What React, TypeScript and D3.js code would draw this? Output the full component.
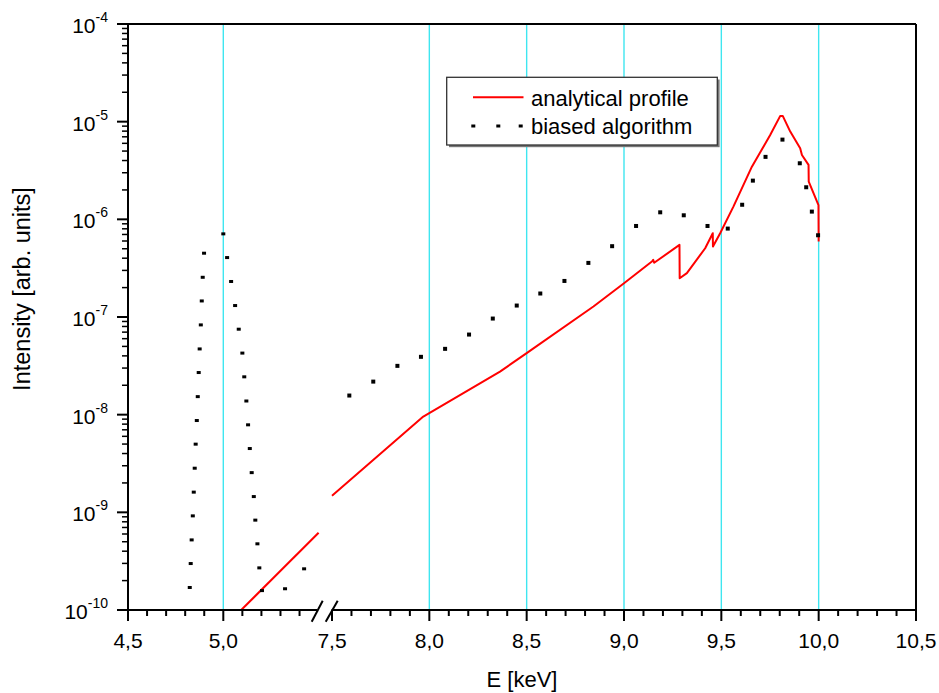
import React from "react";
import * as d3 from "d3";

// ---- data ----
const redLeftE = [5.094, 5.5];
const redLeftI = [1.0e-10, 6.17e-10];

const redRightE = [7.5, 7.969, 8.363, 8.5, 8.843, 9.0, 9.145, 9.15, 9.155, 9.285, 9.286, 9.323, 9.417, 9.456, 9.457, 9.494, 9.562, 9.657, 9.751, 9.802, 9.816, 9.854, 9.905, 9.914, 9.948, 9.949, 9.999, 10.0];
const redRightI = [1.48e-9, 9.57e-9, 2.76e-8, 4.27e-8, 1.28e-7, 2.22e-7, 3.72e-7, 3.85e-7, 3.59e-7, 5.47e-7, 2.49e-7, 2.81e-7, 5.06e-7, 7.21e-7, 5.26e-7, 7.21e-7, 1.35e-6, 3.46e-6, 7.31e-6, 1.14e-5, 1.14e-5, 7.91e-6, 5.35e-6, 4.56e-6, 3.61e-6, 2.43e-6, 1.40e-6, 5.92e-7];

const dotsLeftE = [
  4.899, 4.892, 4.887, 4.882, 4.876, 4.871, 4.866, 4.861, 4.855, 4.85, 4.845, 4.84, 4.834, 4.829, 4.824,
  5.0, 5.02, 5.041, 5.062, 5.081, 5.1, 5.11, 5.121, 5.13, 5.139, 5.149, 5.16, 5.168, 5.179, 5.189, 5.203,
  5.324, 5.424,
];
const dotsLeftI = [
  4.5e-7, 2.55e-7, 1.46e-7, 8.3e-8, 4.71e-8, 2.7e-8, 1.53e-8, 8.71e-9, 4.99e-9, 2.83e-9, 1.61e-9, 9.2e-10, 5.22e-10, 2.99e-10, 1.7e-10,
  7.1e-7, 4.06e-7, 2.31e-7, 1.31e-7, 7.5e-8, 4.27e-8, 2.44e-8, 1.38e-8, 7.87e-9, 4.5e-9, 2.55e-9, 1.45e-9, 8.32e-10, 4.76e-10, 2.7e-10, 1.58e-10,
  1.65e-10, 2.64e-10,
];

const dotsRightE = [7.589, 7.712, 7.836, 7.957, 8.081, 8.204, 8.326, 8.449, 8.57, 8.694, 8.817, 8.939, 9.062, 9.186, 9.307, 9.429, 9.533, 9.607, 9.662, 9.727, 9.814, 9.903, 9.936, 9.965, 9.997];
const dotsRightI = [1.57e-8, 2.18e-8, 3.16e-8, 3.91e-8, 4.72e-8, 6.61e-8, 9.64e-8, 1.31e-7, 1.74e-7, 2.34e-7, 3.58e-7, 5.31e-7, 8.55e-7, 1.18e-6, 1.1e-6, 8.55e-7, 8.04e-7, 1.41e-6, 2.49e-6, 4.36e-6, 6.55e-6, 3.75e-6, 2.13e-6, 1.2e-6, 6.87e-7];

const majorLeft = [4.5, 5.0];
const majorRight = [7.5, 8.0, 8.5, 9.0, 9.5, 10.0, 10.5];
const gridLeft = [5.0];
const gridRight = [8.0, 8.5, 9.0, 9.5, 10.0];
const decades = [-10, -9, -8, -7, -6, -5, -4];

const seriesNames = ["analytical profile", "biased algorithm"];
const xTitle = "E [keV]";
const yTitle = "Intensity [arb. units]";

// ---- layout ----
const W = 939;
const H = 693;
const L = 128;
const R = 916;
const T = 24;
const B = 610;
const FONT = "'Liberation Sans', Arial, Helvetica, sans-serif";
const CYAN = "#3fe6f0";

const xL = d3.scaleLinear().domain([4.5, 5.5]).range([L, 318.6]);
const xR = d3.scaleLinear().domain([7.5, 10.5]).range([332, R]);
const y = d3.scaleLog().domain([1e-10, 1e-4]).range([B, T]);

const fmt = (v: number) => v.toFixed(1).replace(".", ",");

export default function App() {
  const lineL = d3
    .line<number>()
    .x((_, i) => xL(redLeftE[i]))
    .y((d) => y(d));
  const lineR = d3
    .line<number>()
    .x((_, i) => xR(redRightE[i]))
    .y((d) => y(d));

  const minorLeft = d3.range(46, 55).map((v) => v / 10).filter((v) => Math.abs(v - 5) > 1e-6);
  const minorRight = d3.range(76, 105).map((v) => v / 10).filter((v) => Math.abs(v * 2 - Math.round(v * 2)) > 1e-6);

  const minorY: number[] = [];
  decades.slice(0, -1).forEach((e) => {
    for (let m = 2; m <= 9; m++) minorY.push(m * Math.pow(10, e));
  });

  return (
    <svg
      width={W}
      height={H}
      style={{ position: "absolute", left: 0, top: 0, display: "block", background: "#fff" }}
      fontFamily={FONT}
    >
      <defs>
        <clipPath id="plot">
          <rect x={L} y={T} width={R - L} height={B - T} />
        </clipPath>
      </defs>
      <rect x={0} y={0} width={W} height={H} fill="#fff" />

      {/* grid lines */}
      {gridLeft.map((v) => (
        <line key={"gl" + v} x1={xL(v)} x2={xL(v)} y1={T} y2={B} stroke={CYAN} strokeWidth={1.4} />
      ))}
      {gridRight.map((v) => (
        <line key={"gr" + v} x1={xR(v)} x2={xR(v)} y1={T} y2={B} stroke={CYAN} strokeWidth={1.4} />
      ))}

      {/* series */}
      <g clipPath="url(#plot)">
        <path d={lineL(redLeftI) || ""} fill="none" stroke="#ff0000" strokeWidth={2} />
        <path d={lineR(redRightI) || ""} fill="none" stroke="#ff0000" strokeWidth={2} strokeLinejoin="round" />
        {dotsLeftI.map((v, i) => (
          <rect key={"dl" + i} x={xL(dotsLeftE[i]) - 2} y={y(v) - 1.5} width={4} height={3} fill="#000" />
        ))}
        {dotsRightI.map((v, i) => (
          <rect key={"dr" + i} x={xR(dotsRightE[i]) - 2} y={y(v) - 2} width={4} height={4} fill="#000" />
        ))}
      </g>

      {/* frame */}
      <line x1={L} x2={R} y1={T} y2={T} stroke="#000" strokeWidth={2} />
      <line x1={R} x2={R} y1={T} y2={B} stroke="#000" strokeWidth={2} />
      <line x1={L} x2={L} y1={T} y2={B + 1} stroke="#000" strokeWidth={2} />
      <line x1={L - 1} x2={317} y1={B} y2={B} stroke="#000" strokeWidth={2} />
      <line x1={331.5} x2={R + 1} y1={B} y2={B} stroke="#000" strokeWidth={2} />
      {/* axis break marks */}
      <line x1={311.7} y1={621.7} x2={322.7} y2={600.7} stroke="#000" strokeWidth={2} />
      <line x1={325.7} y1={621.7} x2={337.7} y2={600.7} stroke="#000" strokeWidth={2} />

      {/* x ticks */}
      {majorLeft.map((v) => (
        <g key={"ml" + v}>
          <line x1={xL(v)} x2={xL(v)} y1={B} y2={B + 11} stroke="#000" strokeWidth={2} />
          <text x={xL(v)} y={648} fontSize={21} textAnchor="middle" fill="#000">{fmt(v)}</text>
        </g>
      ))}
      {majorRight.map((v) => (
        <g key={"mr" + v}>
          <line x1={xR(v)} x2={xR(v)} y1={B} y2={B + 11} stroke="#000" strokeWidth={2} />
          <text x={xR(v)} y={648} fontSize={21} textAnchor="middle" fill="#000">{fmt(v)}</text>
        </g>
      ))}
      {minorLeft.map((v) => (
        <line key={"nl" + v} x1={xL(v)} x2={xL(v)} y1={B} y2={B + 6} stroke="#000" strokeWidth={2} />
      ))}
      {minorRight.map((v) => (
        <line key={"nr" + v} x1={xR(v)} x2={xR(v)} y1={B} y2={B + 6} stroke="#000" strokeWidth={2} />
      ))}

      {/* y ticks */}
      {decades.map((e) => (
        <g key={"yd" + e}>
          <line x1={L - 11} x2={L} y1={y(Math.pow(10, e))} y2={y(Math.pow(10, e))} stroke="#000" strokeWidth={2} />
          <text x={108} y={y(Math.pow(10, e)) + 9} fontSize={21} textAnchor="end" fill="#000">
            <tspan>10</tspan>
            <tspan fontSize={14} dy={-11}>{String(e)}</tspan>
          </text>
        </g>
      ))}
      {minorY.map((v, i) => (
        <line key={"ym" + i} x1={L - 6} x2={L} y1={y(v)} y2={y(v)} stroke="#000" strokeWidth={1.5} />
      ))}

      {/* titles */}
      <text x={522} y={687} fontSize={22} textAnchor="middle" fill="#000">{xTitle}</text>
      <text transform={`translate(30,289) rotate(-90)`} fontSize={23.5} textAnchor="middle" fill="#000">{yTitle}</text>

      {/* legend */}
      <rect x={449} y={79.5} width={270.6} height={67.7} fill="#777" />
      <rect x={446.7} y={77.3} width={270.6} height={67.7} fill="#fff" stroke="#333" strokeWidth={1.3} />
      <line x1={473} x2={523.5} y1={97.3} y2={97.3} stroke="#ff0000" strokeWidth={2} />
      <text x={531} y={106} fontSize={22} fill="#000">{seriesNames[0]}</text>
      {[473.3, 498.3, 520.7].map((cx) => (
        <rect key={"ld" + cx} x={cx - 2} y={124.5} width={4} height={3} fill="#000" />
      ))}
      <text x={531} y={134} fontSize={22} fill="#000">{seriesNames[1]}</text>
    </svg>
  );
}
